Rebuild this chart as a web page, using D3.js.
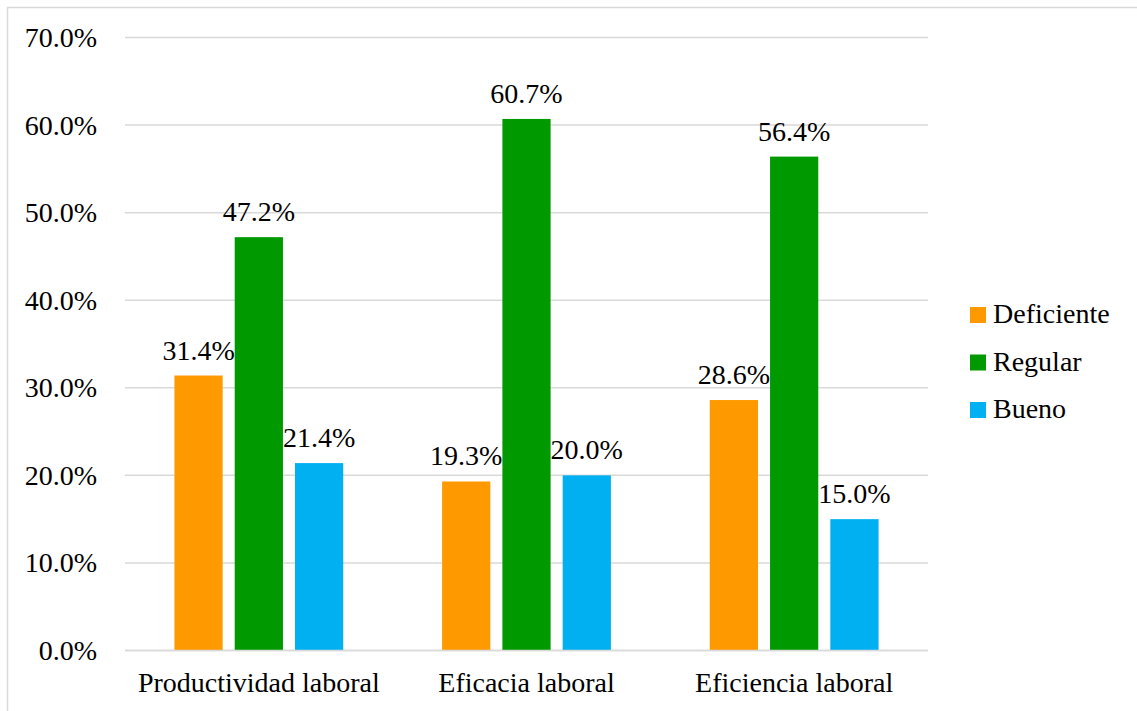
<!DOCTYPE html>
<html>
<head>
<meta charset="utf-8">
<script src="https://cdn.jsdelivr.net/npm/d3@7"></script>
<style>
  html, body { margin: 0; padding: 0; background: #fff; }
  svg { display: block; }
</style>
</head>
<body>
<svg id="chart" width="1137" height="711"></svg>
<script>
const categories = ["Productividad laboral", "Eficacia laboral", "Eficiencia laboral"];
const seriesNames = ["Deficiente", "Regular", "Bueno"];
const deficiente = [31.4, 19.3, 28.6];
const regular = [47.2, 60.7, 56.4];
const bueno = [21.4, 20.0, 15.0];
const yTicks = [0, 10, 20, 30, 40, 50, 60, 70];
const colors = ["#FF9900", "#009900", "#00B0F0"];

(function () {
const seriesValues = [deficiente, regular, bueno];
const data = categories.map((c, i) => ({
  cat: c,
  vals: seriesNames.map((s, j) => ({ series: s, value: seriesValues[j][i], color: colors[j] }))
}));

const svg = d3.select("#chart");
const W = 1137, H = 711;
const fontSize = 28;
const FF = "Liberation Serif";

svg.append("rect")
  .attr("x", 7.5).attr("y", 7.5)
  .attr("width", W + 20).attr("height", H + 20)
  .attr("fill", "#fff").attr("stroke", "#d9d9d9").attr("stroke-width", 1.5);

const pLeft = 125, pRight = 928, pTop = 37.5, pBottom = 650.5;

const x0 = d3.scaleBand().domain(categories).range([pLeft, pRight]).paddingInner(0).paddingOuter(0);
const x1 = d3.scaleBand().domain(seriesNames).range([0, x0.bandwidth()]).paddingInner(0.2).paddingOuter(0.82);
const y = d3.scaleLinear().domain([0, 70]).range([pBottom, pTop]);

svg.append("g").selectAll("line").data(yTicks).join("line")
  .attr("x1", pLeft).attr("x2", pRight)
  .attr("y1", d => y(d)).attr("y2", d => y(d))
  .attr("stroke", "#d9d9d9").attr("stroke-width", 1.5);

const yAxis = d3.axisLeft(y).tickValues(yTicks).tickFormat(d => d.toFixed(1) + "%").tickSize(0).tickPadding(28);
const yg = svg.append("g").attr("transform", `translate(${pLeft},0)`).call(yAxis);
yg.select(".domain").remove();
yg.attr("font-family", null);
yg.selectAll("text").style("font-family", FF).attr("font-size", fontSize).attr("fill", "#000").attr("dy", "0.32em");

const groups = svg.append("g").selectAll("g").data(data).join("g")
  .attr("transform", d => `translate(${x0(d.cat)},0)`);
groups.selectAll("rect").data(d => d.vals).join("rect")
  .attr("x", d => x1(d.series))
  .attr("width", x1.bandwidth())
  .attr("y", d => y(d.value))
  .attr("height", d => y(0) - y(d.value))
  .attr("fill", d => d.color);
groups.selectAll("text").data(d => d.vals).join("text")
  .style("font-family", FF)
  .attr("x", d => x1(d.series) + x1.bandwidth() / 2)
  .attr("y", d => y(d.value) - 16)
  .attr("text-anchor", "middle")
  .attr("font-size", fontSize)
  .text(d => d.value.toFixed(1) + "%");

svg.append("line").attr("x1", pLeft).attr("x2", pRight).attr("y1", y(0)).attr("y2", y(0))
  .attr("stroke", "#d9d9d9").attr("stroke-width", 1.5);

const xAxis = d3.axisBottom(x0).tickSize(0).tickPadding(22);
const xg = svg.append("g").attr("transform", `translate(0,${pBottom})`).call(xAxis);
xg.select(".domain").remove();
xg.attr("font-family", null);
xg.selectAll("text").style("font-family", FF).attr("font-size", fontSize).attr("fill", "#000");

const legend = svg.append("g").attr("transform", "translate(970,307)");
const li = legend.selectAll("g").data(seriesNames).join("g")
  .attr("transform", (d, i) => `translate(0,${i * 47.5})`);
li.append("rect").attr("width", 16).attr("height", 16).attr("fill", (d, i) => colors[i]);
li.append("text").style("font-family", FF).attr("x", 23).attr("y", 16).attr("font-size", fontSize).text(d => d);
})();
</script>
</body>
</html>
